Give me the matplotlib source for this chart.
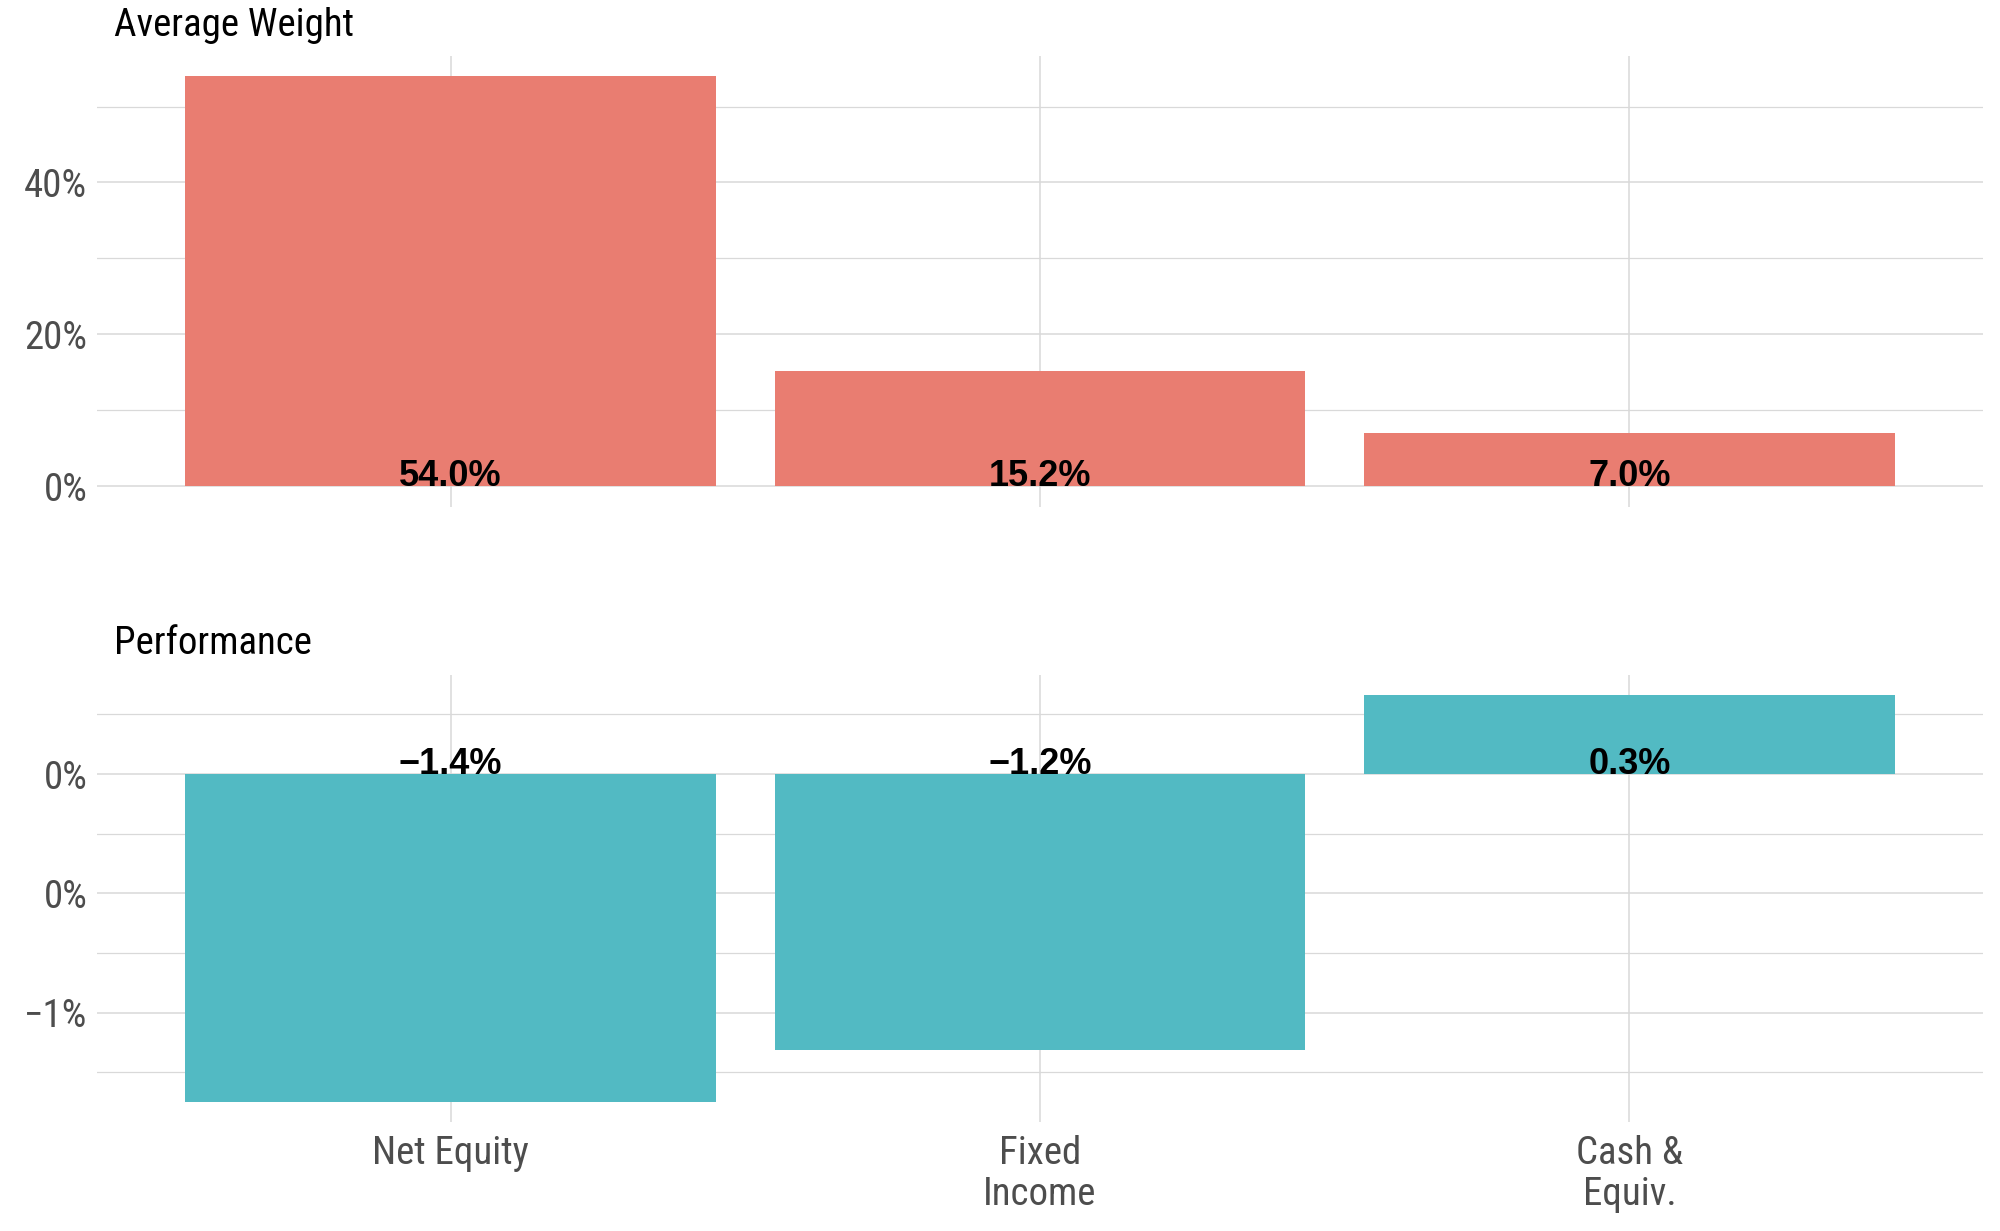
import matplotlib
matplotlib.use("Agg")
import matplotlib.pyplot as plt
import numpy as np

plt.rcParams['font.family'] = ['Roboto Condensed', 'Liberation Sans', 'DejaVu Sans']

categories = ["Net Equity", "Fixed\nIncome", "Cash &\nEquiv."]
weight = [54.0, 15.2, 7.0]
performance = [-1.374, -1.157, 0.33]

weight_ticks = [0, 20, 40]
weight_minor = [10, 30, 50]
weight_labels = ["0%", "20%", "40%"]
perf_ticks = [-1.0, -0.5, 0.0]
perf_minor = [-1.25, -0.75, -0.25, 0.25]
perf_labels = ["\u22121%", "0%", "0%"]

red = "#E97D71"
teal = "#52BAC3"
grid_col = "#D9D9D9"


def expand(vals):
    lo = min(0, min(vals))
    hi = max(0, max(vals))
    pad = (hi - lo) * 0.05
    return lo - pad, hi + pad


def fmt(v):
    return f"{v:.1f}%".replace("-", "\u2212")


def panel(ax, values, color, ticks, minor, labels, show_x):
    x = np.arange(1, len(values) + 1)
    ax.bar(x, values, width=0.9, color=color, zorder=2)
    for xi, v in zip(x, values):
        ax.text(xi, 0, fmt(v), ha='center', va='baseline', fontsize=26,
                fontweight='bold', color='black', zorder=3,
                family=['Liberation Sans', 'DejaVu Sans'])
    ax.set_xlim(0.4, len(values) + 0.6)
    ax.set_ylim(*expand(values))
    ax.set_xticks(x)
    ax.set_yticks(ticks)
    ax.set_yticklabels(labels)
    ax.set_yticks(minor, minor=True)
    ax.grid(True, which='major', color=grid_col, linewidth=1.1, zorder=0)
    ax.grid(True, which='minor', axis='y', color=grid_col, linewidth=0.9, zorder=0)
    ax.set_axisbelow(True)
    for s in ax.spines.values():
        s.set_visible(False)
    ax.tick_params(which='both', length=0)
    ax.tick_params(axis='y', labelsize=28, labelcolor='#4D4D4D', pad=7)
    if show_x:
        ax.set_xticklabels(categories, fontsize=28, color='#4D4D4D', linespacing=1.16)
        ax.tick_params(axis='x', pad=9)
    else:
        ax.set_xticklabels([])


fig = plt.figure(figsize=(20, 12.31), dpi=100)
ax1 = fig.add_axes([0.0485, 0.5885, 0.943, 0.3663])
ax2 = fig.add_axes([0.0485, 0.0885, 0.943, 0.3631])

panel(ax1, weight, red, weight_ticks, weight_minor, weight_labels, False)
panel(ax2, performance, teal, perf_ticks, perf_minor, perf_labels, True)

fig.text(0.057, 1 - 36 / 1231, "Average Weight", fontsize=28, color='black', va='baseline')
fig.text(0.057, 1 - 654 / 1231, "Performance", fontsize=28, color='black', va='baseline')

fig.savefig("out.png", dpi=100, facecolor='white')
